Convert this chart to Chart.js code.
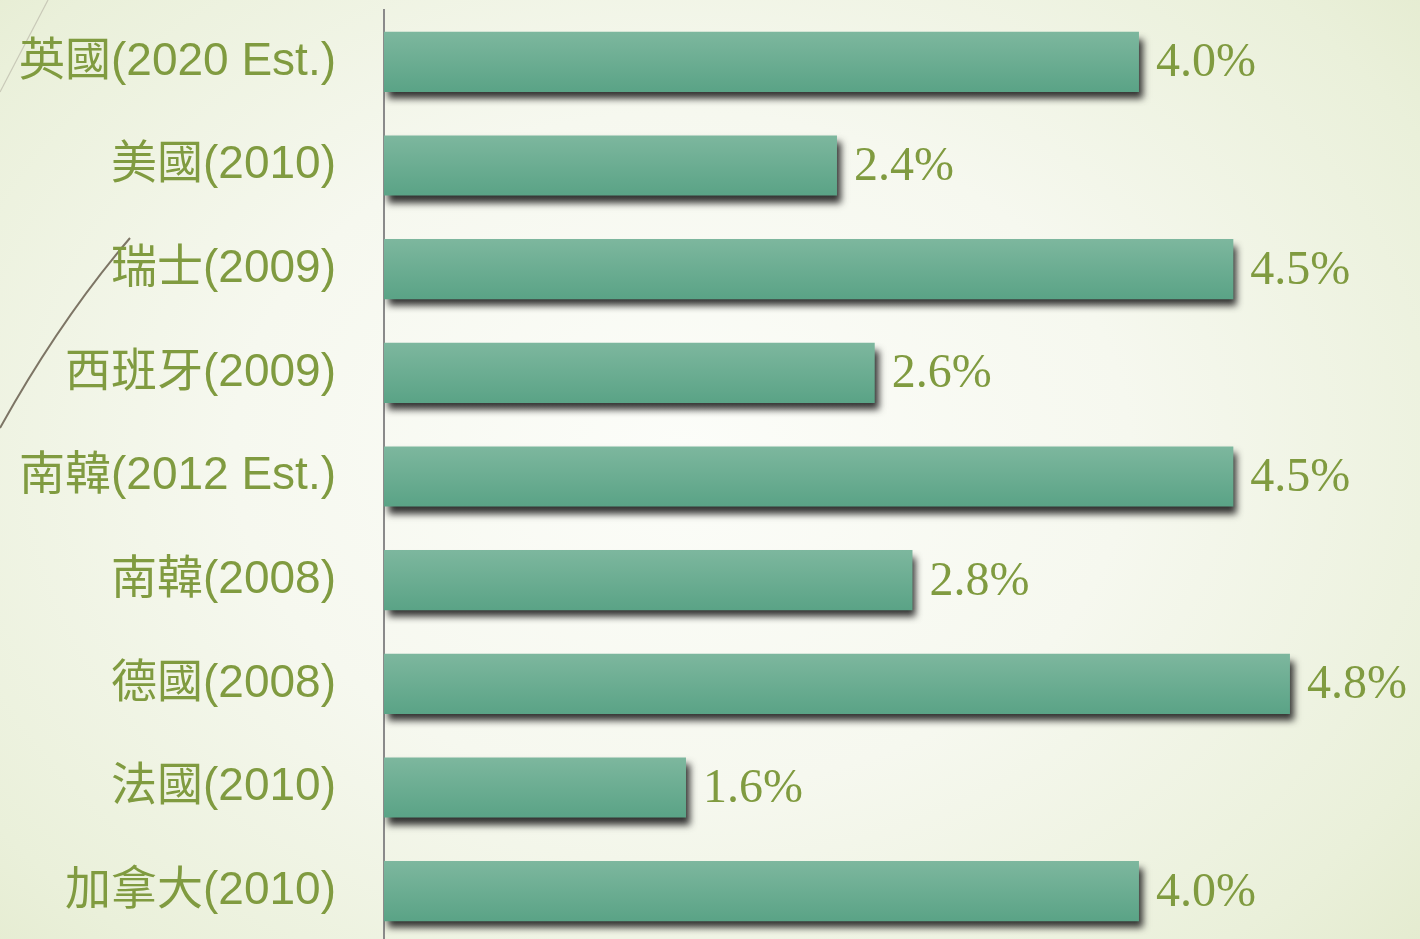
<!DOCTYPE html>
<html>
<head>
<meta charset="utf-8">
<script src="https://cdn.jsdelivr.net/npm/chart.js@4.4.1/dist/chart.umd.min.js"></script>
<style>
  html, body { margin: 0; padding: 0; width: 1420px; height: 939px; overflow: hidden; }
  body {
    background:
      radial-gradient(ellipse 70% 80% at 48% 48%, #fcfdf9 0%, #f6f8ef 45%, #eaf0da 85%, #e4ebcf 100%);
  }
  #deco { position: absolute; left: 0; top: 0; width: 1420px; height: 939px; pointer-events: none; }
  #wrap { position: absolute; left: 0; top: 0; width: 1420px; height: 960px; }
</style>
</head>
<body>
<svg id="deco" width="1420" height="939">
  <line x1="48" y1="0" x2="0" y2="92" stroke="#c9c9b8" stroke-width="1.2"/>
  <path d="M130,238 Q60,320 0,428" fill="none" stroke="#7d7565" stroke-width="2"/>
</svg>
<div id="wrap"><canvas id="c" width="1420" height="960"></canvas></div>
<script>
const categories = ['英國(2020 Est.)', '美國(2010)', '瑞士(2009)', '西班牙(2009)', '南韓(2012 Est.)', '南韓(2008)', '德國(2008)', '法國(2010)', '加拿大(2010)'];
const values = [4.0, 2.4, 4.5, 2.6, 4.5, 2.8, 4.8, 1.6, 4.0];
const valueLabels = ['4.0%', '2.4%', '4.5%', '2.6%', '4.5%', '2.8%', '4.8%', '1.6%', '4.0%'];

const textColor = '#809b40';

const shadowPlugin = {
  id: 'barShadow',
  beforeDatasetsDraw(chart) {
    const ctx = chart.ctx;
    ctx.save();
    ctx.shadowColor = 'rgba(30,30,30,0.9)';
    ctx.shadowBlur = 7;
    ctx.shadowOffsetX = 4;
    ctx.shadowOffsetY = 7;
  },
  afterDatasetsDraw(chart) {
    chart.ctx.restore();
  }
};

const labelPlugin = {
  id: 'valueLabels',
  afterDraw(chart) {
    const ctx = chart.ctx;
    const meta = chart.getDatasetMeta(0);
    ctx.save();
    ctx.font = '48px "Liberation Serif", "DejaVu Serif", serif';
    ctx.fillStyle = textColor;
    ctx.textAlign = 'left';
    ctx.textBaseline = 'middle';
    meta.data.forEach((bar, i) => {
      ctx.fillText(valueLabels[i], bar.x + 17, bar.y + 2);
    });
    ctx.restore();
  }
};

new Chart(document.getElementById('c'), {
  type: 'bar',
  data: {
    labels: categories,
    datasets: [{
      data: values,
      borderWidth: 0,
      categoryPercentage: 1,
      barPercentage: 0.58,
      backgroundColor(context) {
        const chart = context.chart;
        const y = chart.scales && chart.scales.y;
        if (!chart.chartArea || !y) return '#69ab8f';
        const cy = y.getPixelForValue(context.dataIndex);
        const g = chart.ctx.createLinearGradient(0, cy - 30, 0, cy + 30);
        g.addColorStop(0, '#7db79e');
        g.addColorStop(1, '#5aa386');
        return g;
      }
    }]
  },
  options: {
    indexAxis: 'y',
    responsive: false,
    animation: false,
    layout: { padding: { top: 10, bottom: 17, left: 0, right: 0 } },
    plugins: { legend: { display: false }, tooltip: { enabled: false } },
    scales: {
      x: { display: false, min: 0, max: 5.489 },
      y: {
        afterFit(scale) {
          scale.width = 384;
          scale.paddingTop = 0;
          scale.paddingBottom = 0;
        },
        grid: { display: false, drawTicks: false },
        border: { display: true, color: '#8a8a8a', width: 2 },
        ticks: {
          padding: 48,
          autoSkip: false,
          color: textColor,
          font: { size: 46, family: '"Liberation Sans", "Noto Sans CJK TC", sans-serif' }
        }
      }
    }
  },
  plugins: [shadowPlugin, labelPlugin]
});
</script>
</body>
</html>
